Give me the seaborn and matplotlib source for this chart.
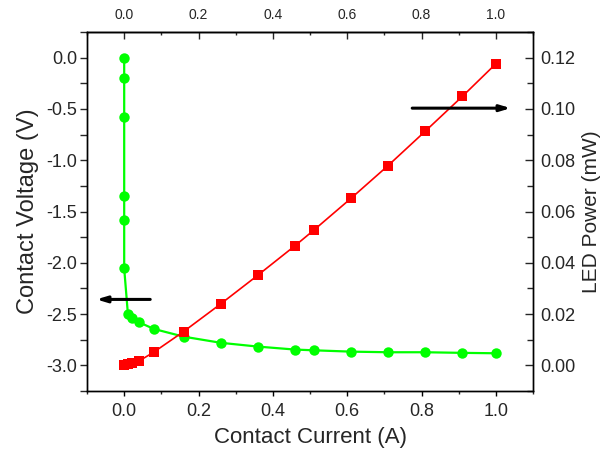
import matplotlib
matplotlib.use("Agg")
import matplotlib.pyplot as plt
import seaborn as sns
import numpy as np
from matplotlib.ticker import MultipleLocator

# ---- data ----
current_a = [0.0, 0.0, 0.0, 0.0, 0.0, 0.0, 0.01, 0.02, 0.04, 0.08, 0.16, 0.26,
             0.36, 0.46, 0.51, 0.61, 0.71, 0.81, 0.91, 1.0]
voltage_v = [0.0, -0.20, -0.58, -1.345, -1.585, -2.055, -2.50, -2.54, -2.58, -2.645,
             -2.72, -2.78, -2.817, -2.846, -2.853, -2.866, -2.872, -2.872, -2.878, -2.882]
power_mw = [0.0, 0.0, 0.0, 0.0, 0.0, 0.0, 0.0004, 0.0008, 0.0017, 0.0052,
            0.0132, 0.024, 0.0352, 0.0467, 0.0527, 0.0651, 0.0779, 0.0913, 0.1049, 0.1176]

x_ticks = [0.0, 0.2, 0.4, 0.6, 0.8, 1.0]
v_ticks = [0.0, -0.5, -1.0, -1.5, -2.0, -2.5, -3.0]
p_ticks = [0.00, 0.02, 0.04, 0.06, 0.08, 0.10, 0.12]

# arrows (annotation positions)
left_arrow = ((0.07, -2.357), (-0.075, -2.357))
right_arrow = ((0.775, 0.1003), (1.04, 0.1003))

sns.set_style("ticks")
plt.rcParams['font.family'] = ['Liberation Sans', 'DejaVu Sans']

fig = plt.figure(figsize=(6.09, 4.59), dpi=100)
ax = fig.add_axes([0.1429, 0.1481, 0.8752 - 0.1429, 0.9303 - 0.1481])
ax2 = ax.twinx()

green = '#00FF00'
red = '#FF0000'

sns.lineplot(x=current_a, y=voltage_v, estimator=None, sort=False, ax=ax,
             color=green, linewidth=1.6, marker='o', markersize=7.5,
             markeredgewidth=0, markerfacecolor=green)
sns.lineplot(x=current_a, y=power_mw, estimator=None, sort=False, ax=ax2,
             color=red, linewidth=1.2, marker='s', markersize=7.2,
             markeredgewidth=0, markerfacecolor=red)

ax.set_xlim(-0.1, 1.1)
ax.set_ylim(-3.25, 0.25)
ax2.set_ylim(-0.01, 0.13)

ax.set_xticks(x_ticks)
ax.set_xticklabels([f"{t:.1f}" for t in x_ticks])
ax.xaxis.set_minor_locator(MultipleLocator(0.1))
ax.set_yticks(v_ticks)
ax.set_yticklabels([f"{t:.1f}" for t in v_ticks])
ax.yaxis.set_minor_locator(MultipleLocator(0.25))
ax2.set_yticks(p_ticks)
ax2.set_yticklabels([f"{t:.2f}" for t in p_ticks])
ax2.yaxis.set_minor_locator(MultipleLocator(0.01))

ax.tick_params(axis='x', which='major', direction='out', length=3.5, width=1.0,
               labelsize=13, pad=5, color='black')
ax.tick_params(axis='x', which='minor', direction='out', length=2.5, width=1.0)
ax.tick_params(axis='y', which='major', direction='out', length=5, width=1.0,
               labelsize=13, pad=2)
ax.tick_params(axis='y', which='minor', direction='out', length=5, width=1.0)
ax2.tick_params(axis='y', which='major', direction='in', length=5.5, width=1.0,
                labelsize=13, pad=5)
ax2.tick_params(axis='y', which='minor', direction='in', length=4, width=1.0)

secax = ax.secondary_xaxis('top')
secax.set_xticks(x_ticks)
secax.set_xticklabels([f"{t:.1f}" for t in x_ticks])
secax.xaxis.set_minor_locator(MultipleLocator(0.1))
secax.tick_params(axis='x', which='major', direction='in', length=5, width=1.0,
                  labelsize=10, pad=7)
secax.tick_params(axis='x', which='minor', direction='in', length=2.5, width=1.0)

for a in (ax, ax2):
    for s in a.spines.values():
        s.set_linewidth(1.0)
        s.set_color('black')
        s.set_visible(True)
secax.spines['top'].set_linewidth(1.0)

ax.set_xlabel("Contact Current (A)", fontsize=16, labelpad=5)
ax.set_ylabel("Contact Voltage (V)", fontsize=17, labelpad=5)
ax2.set_ylabel("LED Power (mW)", fontsize=15, labelpad=5)

ax.annotate("", xy=left_arrow[1], xytext=left_arrow[0],
            arrowprops=dict(arrowstyle='-|>,head_length=0.6,head_width=0.18',
                            color='black', lw=2.2, shrinkA=0, shrinkB=0))
ax2.annotate("", xy=right_arrow[1], xytext=right_arrow[0],
             arrowprops=dict(arrowstyle='-|>,head_length=0.6,head_width=0.18',
                             color='black', lw=2.2, shrinkA=0, shrinkB=0))

fig.savefig("out.png", dpi=100)
